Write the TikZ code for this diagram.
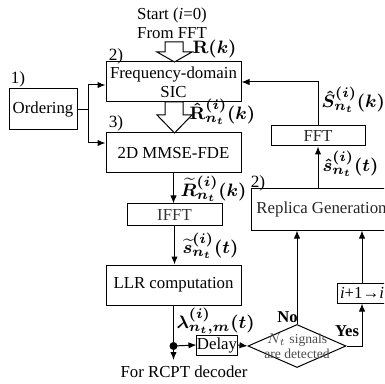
\documentclass[tikz,border=0pt]{standalone}
\usepackage{fontspec}
\setmainfont{Liberation Serif}
\usetikzlibrary{arrows.meta,shapes.geometric}
\begin{document}
\begin{tikzpicture}[x=0.5pt,y=-0.5pt,
  font=\fontsize{8.4}{9.5}\selectfont,
  line width=0.5pt,
  bx/.style 2 args={draw, minimum width={#1*0.5pt}, minimum height={#2*0.5pt}, inner sep=0pt, align=center},
  arr/.style={-{Latex[length=4pt,width=3.2pt]}},
  lab/.style={anchor=west, inner sep=0pt, font=\fontsize{9.3}{10}\selectfont\boldmath},
  num/.style={inner sep=0pt, font=\fontsize{8.6}{9}\selectfont},
  bnum/.style={inner sep=0pt, font=\fontsize{8.3}{9}\selectfont\bfseries},
  hollow/.style={draw, fill=white, line join=miter}]
\useasboundingbox (0,0) rectangle (384,384);
\clip (0,0) rectangle (384,384);

% texts at top
\node[inner sep=0pt] (start) at (172,15) {Start (\textit{i}=0)};
\node[inner sep=0pt] (from) at (172,33) {From FFT};

% boxes
\node[bx={135}{40}] (sic) at (173.5,82) {Frequency-domain\\SIC};
\node[bx={68}{41}] (ord) at (43,109.5) {Ordering};
\node[bx={135}{40}] (mmse) at (173.5,153) {2D MMSE-FDE};
\node[bx={95}{21}, text=black!80] (ifft) at (174.5,214.5) {IFFT};
\node[bx={135}{40}] (llr) at (173.5,285) {LLR computation};
\node[bx={40}{20}] (delay) at (217,345) {Delay};
\node[draw, shape=diamond, minimum width=49pt, minimum height=21.5pt, inner sep=0pt] (dia) at (297,346) {};
\node[inner sep=0pt, align=center, text=black!70, font=\fontsize{6.8}{7.6}\selectfont] (diatext) at (297,346) {$N_t$ signals\\are detected};
\node[bx={50}{20}] (inc) at (362,293) {\textit{i}+1→\textit{i}};
\node[bx={141}{41}, text=black!85] (rep) at (321.5,209.5) {Replica Generation};
\node[bx={94}{20}, text=black!85] (fft) at (318,136) {FFT};

% numbers
\node[num] (n1) at (18,79) {1)};
\node[num] (n2) at (116,56) {2)};
\node[num] (n3) at (116,123) {3)};
\node[num] (n4) at (258,183) {2)};

% hollow arrows
\draw[hollow] (165,42) -- (183,42) -- (183,52) -- (192,52) -- (174.5,62) -- (157,52) -- (165,52) -- cycle;
\draw[hollow] (165,102) -- (183,102) -- (183,115) -- (192,115) -- (174.5,133) -- (157,115) -- (165,115) -- cycle;

% connectors
\coordinate (j) at (88,109.5);
\draw (ord.east) -- (j);
\draw[arr] (j) |- ([yshift=-1.5pt]sic.west);
\draw[arr] (j) |- ([yshift=5pt]mmse.west);
\draw[arr] (mmse.south) -- (mmse.south |- ifft.north);
\draw[arr] (ifft.south) -- (ifft.south |- llr.north);
\coordinate (dot) at (173.5,346);
\coordinate (out) at (173.5,360);
\draw (llr.south) -- (dot);
\fill (dot) circle (2pt);
\draw[arr] (dot) -- (out);
\node[inner sep=0pt] (rcpt) at (184,372) {For RCPT decoder};
\draw[arr] (dot) -- (delay.west);
\draw[arr] (delay.east) -- (dia.west);
\draw[arr] (dia.north) -- (dia.north |- rep.south);
\draw[arr] (dia.east) -| (inc.south);
\draw[arr] (inc.north) -- (inc.north |- rep.south);
\draw[arr] (fft.south |- rep.north) -- (fft.south);
\draw[arr] (fft.north) |- (sic.east);

% labels
\node[lab] (lR) at (192,49) {$\mathbf{R}(k)$};
\node[lab] (lRh) at (189,112) {$\hat{\mathbf{R}}^{(i)}_{n_t}(k)$};
\node[lab] (lSh) at (321,100) {$\hat{S}^{(i)}_{n_t}(k)$};
\node[lab] (lsh) at (322,164) {$\hat{s}^{(i)}_{n_t}(t)$};
\node[lab] (lRt) at (180,189) {$\widetilde{R}^{(i)}_{n_t}(k)$};
\node[lab] (lst) at (182,246) {$\widetilde{s}^{(i)}_{n_t}(t)$};
\node[lab] (llam) at (176,321) {$\lambda^{(i)}_{n_t,m}(t)$};
\node[bnum] (no) at (287.5,317) {No};
\node[bnum] (yes) at (347,331) {Yes};
\end{tikzpicture}
\end{document}
